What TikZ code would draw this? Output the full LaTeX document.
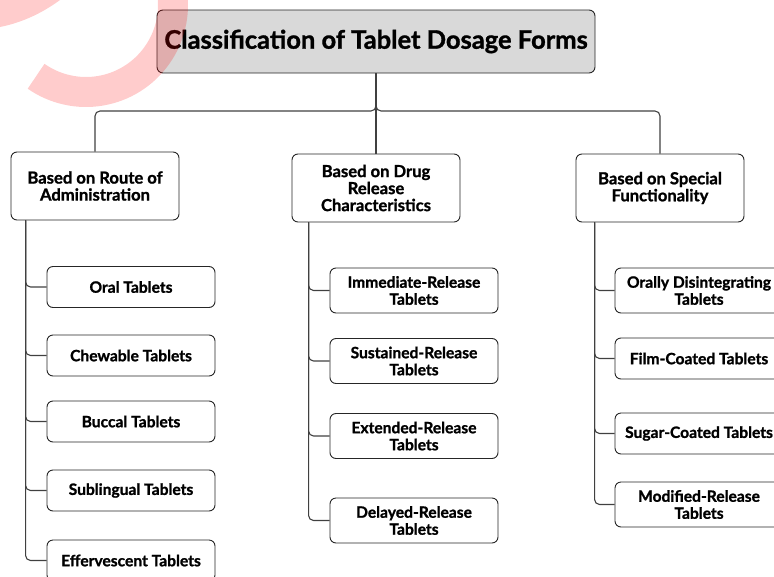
\documentclass[tikz,border=0pt]{standalone}
\usepackage{fontspec}
\setmainfont{Lato}[BoldFeatures={FakeBold=1.2}]
\usetikzlibrary{positioning}

\begin{document}
\begin{tikzpicture}[x=1pt, y=-1pt,
        titlebox/.style={draw=black!85, fill=black!15, rounded corners=6pt, line width=0.9pt,
            minimum width=438pt, minimum height=63pt, font=\fontsize{25.5}{30}\selectfont\bfseries},
        groupbox/.style={draw=black!85, fill=white, rounded corners=6pt, line width=0.9pt,
            minimum width=168pt, minimum height=68pt, align=center, font=\fontsize{16.6}{17}\selectfont\bfseries},
        itembox/.style={draw=black!85, fill=white, rounded corners=6pt, line width=0.9pt,
            minimum width=168pt, align=center, font=\fontsize{15.6}{17}\selectfont\bfseries},
        link/.style={draw=black!75, line width=1.1pt, rounded corners=5pt}]
                                \useasboundingbox (0,0) rectangle (774,576);
                                \clip (0,0) rectangle (774,576);
                                \node[titlebox] (title) at (376,41.5) {Classification of Tablet Dosage Forms};
                                \node[groupbox] (route) at (95,186) {Based on Route of\\Administration};
                                \node[groupbox] (release) at (376,188) {Based on Drug\\Release\\Characteristics};
                                \node[groupbox] (special) at (660,188) {Based on Special\\Functionality};
                                \coordinate (split) at (376,111);
                                \draw[link] (title.south) |- (route.north |- split) -- (route.north);
                                \draw[link] (title.south) |- (special.north |- split) -- (special.north);
                                \draw[link] (title.south) -- (release.north);
                                \coordinate (routetrunk) at ([xshift=15pt]route.south west);
                                \coordinate (releasetrunk) at ([xshift=17pt]release.south west);
                                \coordinate (specialtrunk) at ([xshift=19pt]special.south west);
                                \foreach \name/\y/\h/\txt in {oral/287/41/Oral Tablets, chew/355.5/41/Chewable Tablets,
                                        buccal/421.5/41/Buccal Tablets, subling/490.5/41/Sublingual Tablets,
                                        efferv/560.5/41/Effervescent Tablets}{
                                    \node[itembox, minimum height=\h pt] (\name) at (131,\y) {\txt};
                                    \draw[link] (routetrunk) |- (\name.west);
                                }
                                \foreach \name/\y/\h/\txt in {immed/290.5/45/{Immediate-Release\\Tablets},
                                        sustain/361/45/{Sustained-Release\\Tablets}, extend/436/45/{Extended-Release\\Tablets},
                                        delay/520.5/45/{Delayed-Release\\Tablets}}{
                                    \node[itembox, minimum height=\h pt] (\name) at (414,\y) {\txt};
                                    \draw[link] (releasetrunk) |- (\name.west);
                                }
                                \foreach \name/\y/\h/\txt in {odt/290.5/45/{Orally Disintegrating\\Tablets},
                                        film/358.5/41/Film-Coated Tablets, sugar/433.5/41/Sugar-Coated Tablets,
                                        modif/504.5/45/{Modified-Release\\Tablets}}{
                                    \node[itembox, minimum height=\h pt] (\name) at (699,\y) {\txt};
                                    \draw[link] (specialtrunk) |- (\name.west);
                                }
                                \draw[red, opacity=0.2, line width=30pt] plot[domain=-40:125, samples=60, smooth] ({86+87*cos(\x)}, {5+87*sin(\x)});
                                \fill[red, opacity=0.2] (-5,-5) -- (61,-5) -- (60,0) .. controls (45,11) and (25,22) .. (0,27) -- (-5,29) -- cycle;
                            \end{tikzpicture}
\end{document}
